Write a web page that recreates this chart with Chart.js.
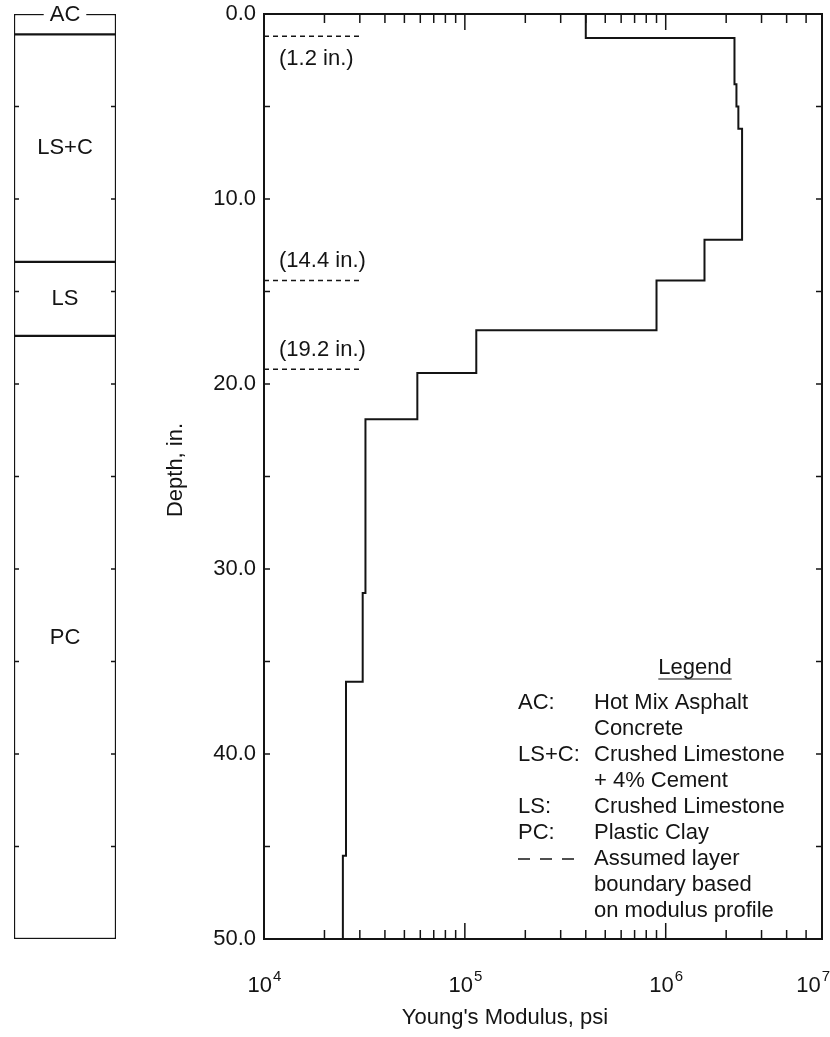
<!DOCTYPE html>
<html>
<head>
<meta charset="utf-8">
<script src="https://cdn.jsdelivr.net/npm/chart.js@4/dist/chart.umd.min.js"></script>
<style>
  html, body { margin: 0; padding: 0; background: #fff; }
  #wrap { position: relative; width: 830px; height: 1037px; }
  #wrap canvas { position: absolute; left: 0; top: 0; }
</style>
</head>
<body>
<div id="wrap">
  <canvas id="profile" width="830" height="1037"></canvas>
  <canvas id="section" width="130" height="1037"></canvas>
</div>
<script>
// modulus profile: layer i starts at stepDepth[i] (in.) with modulus stepModulus[i] (psi)
const stepDepth   = [0, 1.3, 3.8, 5.0, 6.2, 12.2, 14.4, 17.1, 19.4, 21.9, 31.3, 36.1, 45.5];
const stepModulus = [4.0e5, 2.2e6, 2.25e6, 2.3e6, 2.4e6, 1.56e6, 9.0e5, 1.14e5, 5.8e4, 3.2e4, 3.1e4, 2.56e4, 2.47e4];
const maxDepth = 50;

// assumed layer boundaries picked off the profile
const boundaryDepth  = [1.2, 14.4, 19.2];
const boundaryLabels = ['(1.2 in.)', '(14.4 in.)', '(19.2 in.)'];
const boundaryEnd    = 3.0e4;

// pavement section column
const layerNames  = ['AC', 'LS+C', 'LS', 'PC'];
const layerTop    = [0, 1.1, 13.4, 17.4];
const layerBottom = [1.1, 13.4, 17.4, 50];

// axes
const xMin = 1e4, xMax = 6.0e6;
const xLabelValues = [1e4, 1e5, 1e6, xMax];
const xLabelExps   = ['4', '5', '6', '7'];
const yLabelValues = [0, 10, 20, 30, 40, 50];

const legendRows = [
  ['AC:', 'Hot Mix Asphalt'],
  ['', 'Concrete'],
  ['LS+C:', 'Crushed Limestone'],
  ['', '+ 4% Cement'],
  ['LS:', 'Crushed Limestone'],
  ['PC:', 'Plastic Clay'],
  ['- - -', 'Assumed layer'],
  ['', 'boundary based'],
  ['', 'on modulus profile'],
];

const INK = '#141414';
const FAMILY = '"Liberation Sans", Arial, Helvetica, sans-serif';
const FONT = '22px ' + FAMILY;

function seg(ctx, x1, y1, x2, y2) {
  ctx.beginPath();
  ctx.moveTo(x1, y1);
  ctx.lineTo(x2, y2);
  ctx.stroke();
}

const profilePoints = stepDepth.map((d, i) => ({ x: stepModulus[i], y: d }));
profilePoints.push({ x: stepModulus[stepModulus.length - 1], y: maxDepth });

const boundarySets = boundaryDepth.map(d => ({
  data: [{ x: xMin, y: d }, { x: boundaryEnd, y: d }],
  showLine: true,
  borderColor: INK,
  borderWidth: 1.5,
  borderDash: [5, 4],
  pointRadius: 0,
  clip: false,
}));

const profileDecor = {
  id: 'profileDecor',
  afterDatasetsDraw(chart) {
    const { ctx, chartArea: a, scales: { x, y } } = chart;
    ctx.save();
    ctx.strokeStyle = INK;
    ctx.fillStyle = INK;

    ctx.lineWidth = 2;
    ctx.strokeRect(a.left, a.top, a.right - a.left, a.bottom - a.top);

    // log ticks on top and bottom, pointing in
    ctx.lineWidth = 1.5;
    for (let e = 4; e < 7; e++) {
      for (let m = 1; m <= 9; m++) {
        const v = m * Math.pow(10, e);
        if (v >= xMax) break;
        const px = x.getPixelForValue(v);
        const len = m === 1 ? 16 : 9;
        seg(ctx, px, a.top, px, a.top + len);
        seg(ctx, px, a.bottom, px, a.bottom - len);
      }
    }
    // depth ticks every 5 in. on both sides
    for (let d = 5; d < maxDepth; d += 5) {
      const py = y.getPixelForValue(d);
      seg(ctx, a.left, py, a.left + 6, py);
      seg(ctx, a.right, py, a.right - 6, py);
    }

    // depth labels
    ctx.font = FONT;
    ctx.textAlign = 'right';
    ctx.textBaseline = 'middle';
    yLabelValues.forEach(v => ctx.fillText(v.toFixed(1), a.left - 8, y.getPixelForValue(v)));

    // modulus labels as 10 with a raised exponent
    const small = '15px ' + FAMILY;
    xLabelValues.forEach((v, i) => {
      ctx.font = FONT;
      const wBase = ctx.measureText('10').width;
      ctx.font = small;
      const wExp = ctx.measureText(xLabelExps[i]).width;
      let left = x.getPixelForValue(v) - (wBase + wExp) / 2;
      left = Math.min(left, 829 - wBase - wExp);
      ctx.textAlign = 'left';
      ctx.textBaseline = 'alphabetic';
      ctx.font = FONT;
      ctx.fillText('10', left, a.bottom + 53);
      ctx.font = small;
      ctx.fillText(xLabelExps[i], left + wBase + 1, a.bottom + 42);
    });

    // axis titles
    ctx.font = FONT;
    ctx.textAlign = 'center';
    ctx.textBaseline = 'middle';
    ctx.fillText("Young's Modulus, psi", 505, a.bottom + 79);
    ctx.save();
    ctx.translate(176, 470);
    ctx.rotate(-Math.PI / 2);
    ctx.fillText('Depth, in.', 0, 0);
    ctx.restore();

    // boundary depth notes
    ctx.textAlign = 'left';
    boundaryDepth.forEach((d, i) => {
      const py = y.getPixelForValue(d);
      const dy = i === 0 ? 23 : -19;
      ctx.fillText(boundaryLabels[i], a.left + 15, py + dy);
    });

    // legend block
    const keyX = 518, textX = 594, rowY0 = 703, step = 26;
    ctx.textAlign = 'center';
    ctx.fillText('Legend', 695, 668);
    const lw = ctx.measureText('Legend').width;
    ctx.lineWidth = 1.2;
    seg(ctx, 695 - lw / 2, 679, 695 + lw / 2, 679);
    ctx.textAlign = 'left';
    legendRows.forEach(([key, text], i) => {
      const ry = rowY0 + i * step;
      if (key === '- - -') {
        ctx.lineWidth = 1.5;
        for (let k = 0; k < 3; k++) seg(ctx, keyX + k * 22, ry, keyX + k * 22 + 12, ry);
      } else if (key) {
        ctx.fillText(key, keyX, ry);
      }
      ctx.fillText(text, textX, ry);
    });
    ctx.restore();
  }
};

new Chart(document.getElementById('profile'), {
  type: 'scatter',
  data: {
    datasets: [{
      data: profilePoints,
      showLine: true,
      stepped: 'after',
      borderColor: INK,
      borderWidth: 2,
      pointRadius: 0,
      clip: 2,
    }, ...boundarySets]
  },
  options: {
    responsive: false,
    animation: false,
    layout: { padding: { left: 264, right: 8, top: 14, bottom: 98 } },
    plugins: { legend: { display: false }, tooltip: { enabled: false } },
    scales: {
      x: { type: 'logarithmic', min: xMin, max: xMax, display: false },
      y: { type: 'linear', reverse: true, min: 0, max: maxDepth, display: false }
    }
  },
  plugins: [profileDecor]
});

const sectionDecor = {
  id: 'sectionDecor',
  afterDatasetsDraw(chart) {
    const { ctx, chartArea: a, scales: { y } } = chart;
    ctx.save();
    ctx.strokeStyle = INK;
    ctx.fillStyle = INK;
    ctx.lineWidth = 1.5;
    for (let d = 5; d < maxDepth; d += 5) {
      const py = y.getPixelForValue(d);
      seg(ctx, a.left, py, a.left + 5, py);
      seg(ctx, a.right, py, a.right - 5, py);
    }
    ctx.font = FONT;
    ctx.textAlign = 'center';
    ctx.textBaseline = 'middle';
    const cx = (a.left + a.right) / 2;
    layerNames.forEach((name, i) => {
      if (i === 0) {
        const py = y.getPixelForValue(layerTop[0]);
        const w = ctx.measureText(name).width;
        ctx.fillStyle = '#fff';
        ctx.fillRect(cx - w / 2 - 6, py - 4, w + 12, 8);
        ctx.fillStyle = INK;
        ctx.fillText(name, cx, py + 1);
      } else {
        ctx.fillText(name, cx, y.getPixelForValue((layerTop[i] + layerBottom[i]) / 2));
      }
    });
    ctx.restore();
  }
};

new Chart(document.getElementById('section'), {
  type: 'bar',
  data: {
    labels: ['section'],
    datasets: layerNames.map((name, i) => ({
      label: name,
      data: [[layerTop[i], layerBottom[i]]],
      backgroundColor: '#fff',
      borderColor: INK,
      borderWidth: 1.5,
      borderSkipped: false,
      grouped: false,
      categoryPercentage: 1,
      barPercentage: 1,
    }))
  },
  options: {
    responsive: false,
    animation: false,
    layout: { padding: { left: 14, right: 14, top: 14, bottom: 98 } },
    plugins: { legend: { display: false }, tooltip: { enabled: false } },
    scales: {
      x: { type: 'category', display: false },
      y: { type: 'linear', reverse: true, min: 0, max: maxDepth, display: false }
    }
  },
  plugins: [sectionDecor]
});
</script>
</body>
</html>
